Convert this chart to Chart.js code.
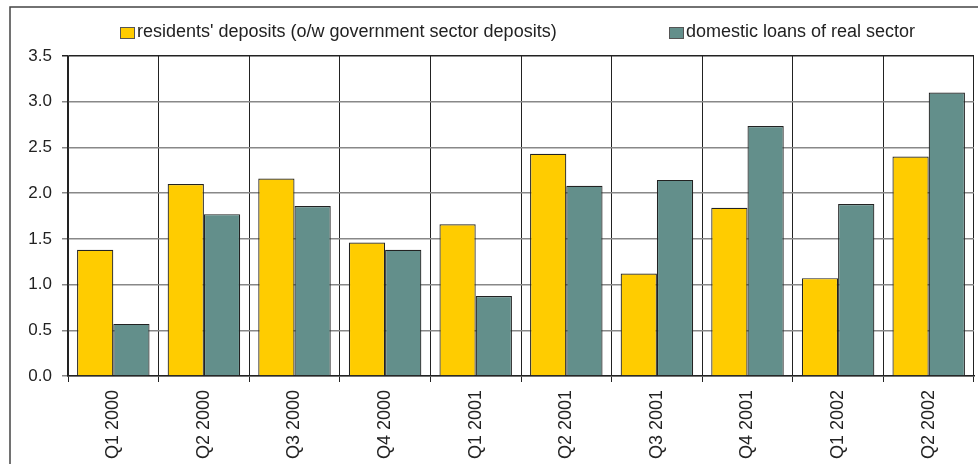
<!DOCTYPE html>
<html lang="en">
<head>
  <meta charset="UTF-8" />
  <title>Deposits and loans</title>
  <script src="https://cdn.jsdelivr.net/npm/chart.js"></script>
  <style>
    html, body { margin: 0; padding: 0; background: #fff; }
    .wrap { position: relative; width: 978px; height: 464px; }
  </style>
</head>
<body>
  <div class="wrap">
    <canvas id="chart"></canvas>
  </div>

  <script>
    // Data
    const quarters = ['Q1 2000', 'Q2 2000', 'Q3 2000', 'Q4 2000', 'Q1 2001',
                      'Q2 2001', 'Q3 2001', 'Q4 2001', 'Q1 2002', 'Q2 2002'];
    const deposits = [1.38, 2.10, 2.16, 1.46, 1.66, 2.43, 1.12, 1.84, 1.07, 2.40];
    const loans = [0.57, 1.77, 1.86, 1.38, 0.875, 2.08, 2.145, 2.735, 1.88, 3.10];
    const seriesNames = ["residents' deposits (o/w government sector deposits)",
                         'domestic loans of real sector'];
    const yTicks = [0, 0.5, 1, 1.5, 2, 2.5, 3, 3.5];

    const FONT = '"Liberation Sans", Arial, sans-serif';

    // Outer frame + hand-placed legend (the original spreads the two items far apart)
    const framePlugin = {
      id: 'frameLegend',
      beforeDraw(chart) {
        const ctx = chart.ctx;
        ctx.save();
        ctx.strokeStyle = '#444';
        ctx.lineWidth = 1.5;
        ctx.beginPath();
        ctx.moveTo(10, 464);
        ctx.lineTo(10, 7);
        ctx.lineTo(978, 7);
        ctx.stroke();
        ctx.restore();
      },
      afterDraw(chart, args, opts) {
        const ctx = chart.ctx;
        ctx.save();
        ctx.font = '18px ' + FONT;
        ctx.textBaseline = 'middle';
        chart.data.datasets.forEach((ds, i) => {
          const x = opts.xs[i];
          ctx.fillStyle = ds.backgroundColor;
          ctx.fillRect(x, 27, 14, 11);
          ctx.strokeStyle = '#555';
          ctx.lineWidth = 1;
          ctx.strokeRect(x + 0.5, 27.5, 14, 11);
          ctx.fillStyle = '#222';
          ctx.fillText(ds.label, x + 17, 32);
        });
        ctx.restore();
      }
    };

    new Chart(document.getElementById('chart'), {
      type: 'bar',
      data: {
        labels: quarters,
        datasets: [
          {
            label: seriesNames[0],
            data: deposits,
            backgroundColor: '#FFCC00',
            borderColor: '#222',
            borderWidth: 1.2,
            categoryPercentage: 0.8,
            barPercentage: 1.0
          },
          {
            label: seriesNames[1],
            data: loans,
            backgroundColor: '#638F8B',
            borderColor: '#222',
            borderWidth: 1.2,
            categoryPercentage: 0.8,
            barPercentage: 1.0
          }
        ]
      },
      options: {
        responsive: true,
        maintainAspectRatio: false,
        animation: false,
        layout: { padding: { top: 56, right: 4, left: 0, bottom: 0 } },
        plugins: {
          legend: { display: false },
          tooltip: { enabled: false },
          frameLegend: { xs: [120, 669] }
        },
        scales: {
          x: {
            grid: {
              offset: true,
              color: '#222',
              lineWidth: 1,
              tickLength: 6
            },
            border: { color: '#222', width: 1.5 },
            ticks: {
              autoSkip: false,
              minRotation: 90,
              maxRotation: 90,
              padding: 8,
              color: '#222',
              font: { family: FONT, size: 18 }
            },
            afterFit(scale) { scale.height = 88; }
          },
          y: {
            min: 0,
            max: 3.5,
            afterBuildTicks(scale) {
              scale.ticks = yTicks.map(v => ({ value: v }));
            },
            grid: {
              color: ctx => (ctx.tick && ctx.tick.value === 3.5) ? '#222' : '#888',
              lineWidth: 1.5,
              tickLength: 6
            },
            border: { color: '#222', width: 1.5 },
            ticks: {
              padding: 10,
              color: '#222',
              font: { family: FONT, size: 17 },
              callback: v => Number(v).toFixed(1)
            },
            afterFit(scale) { scale.width = 68; }
          }
        }
      },
      plugins: [framePlugin]
    });
  </script>
</body>
</html>
